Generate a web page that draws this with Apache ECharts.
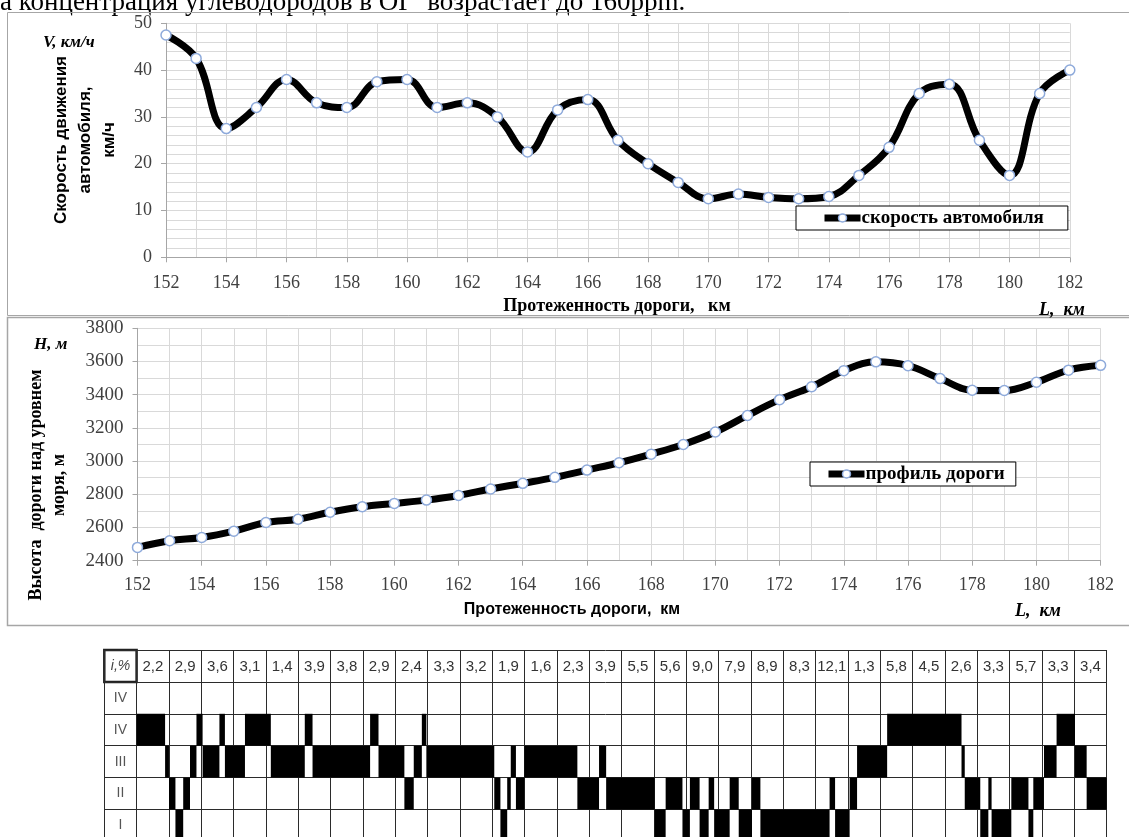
<!DOCTYPE html>
<html>
<head>
<meta charset="utf-8">
<script src="https://cdn.jsdelivr.net/npm/echarts@6/dist/echarts.min.js"></script>
<style>
  html, body { margin: 0; padding: 0; background: #fff; }
  #chart { width: 1129px; height: 837px; }
</style>
</head>
<body>
<div id="chart"></div>
<script>
// Road distance, km
const distanceKm = [152,153,154,155,156,157,158,159,160,161,162,163,164,165,166,167,168,169,170,171,172,173,174,175,176,177,178,179,180,181,182];
// Vehicle speed along the road, km/h
const speedKmh = [47.5,42.5,27.5,32,38,33,32,37.5,38,32,33,30,22.5,31.5,33.7,25,20,16,12.5,13.5,12.8,12.5,13,17.5,23.5,35,37,25,17.5,35,40];
// Road altitude above sea level, m
const altitudeM = [2480,2520,2540,2578,2630,2650,2692,2725,2745,2765,2793,2832,2866,2902,2946,2990,3042,3100,3175,3275,3370,3448,3545,3598,3575,3497,3427,3425,3475,3548,3577];
// Road gradient for each km, %
const gradePct = [2.2,2.9,3.6,3.1,1.4,3.9,3.8,2.9,2.4,3.3,3.2,1.9,1.6,2.3,3.9,5.5,5.6,9.0,7.9,8.9,8.3,12.1,1.3,5.8,4.5,2.6,3.3,5.7,3.3,3.4];
// Gear rows of the table (top to bottom)
const gearRowLabels = ['IV','IV','III','II','I'];
// Points where the engaged gear changes, km
const gearBreaksKm = [152.00,152.88,153.00,153.20,153.44,153.65,153.85,154.04,154.56,154.73,155.35,156.15,157.20,157.44,159.22,159.48,160.28,160.57,160.82,160.96,163.06,163.25,163.46,163.57,163.73,163.99,165.63,166.30,166.52,168.02,168.36,168.88,169.11,169.41,169.69,169.86,170.34,170.62,171.03,171.29,173.43,173.60,174.05,174.28,175.21,177.51,177.61,178.09,178.34,178.44,179.05,179.58,179.73,180.06,180.45,181.02,181.38,182.00];
// Gear row engaged between consecutive break points (index into gearRowLabels)
const gearRow = [1,2,3,4,3,2,1,2,1,2, 1,2,1,2,1,2,3,2,1,2, 3,4,3,2,3,2,3,2,3,4, 3,4,3,4,3,4,3,4,3,4, 3,4,3,2,1,2,3,4,3,4, 3,4,3,2,1,2,3];

const gearSegments = gearRow.map((r, i) => [gearBreaksKm[i], gearBreaksKm[i + 1], r]);
const gradeText = gradePct.map(v => v.toFixed(1).replace('.', ','));
const gradeCells = gradePct.map((v, i) => [distanceKm[i] + 0.5, -0.5]);
const rowLabelCells = gearRowLabels.map((l, i) => [151.5, i + 0.5]);

const SERIF = '"Liberation Serif", "Times New Roman", serif';
const SANS = '"Liberation Sans", Arial, sans-serif';
const gridGray = '#d9d9d9';
const axisGray = '#a6a6a6';

const chart = echarts.init(document.getElementById('chart'), null, { renderer: 'canvas' });

function chartAxisX(gridIndex, margin) {
  return {
    gridIndex, type: 'value', min: 152, max: 182, interval: 2,
    axisLine: { show: true, onZero: false, lineStyle: { color: axisGray, width: 1 } },
    axisTick: { show: true, length: 5, lineStyle: { color: axisGray } },
    axisLabel: { fontFamily: SERIF, fontSize: 18, color: '#404040', margin, formatter: v => String(v) },
    splitLine: { show: true, lineStyle: { color: gridGray, width: 1 } },
    minorTick: { show: false, splitNumber: 2 },
    minorSplitLine: { show: true, lineStyle: { color: gridGray, width: 1 } }
  };
}

function lineSeries(name, gridIndex, values) {
  return {
    type: 'line', name, xAxisIndex: gridIndex, yAxisIndex: gridIndex,
    data: distanceKm.map((d, i) => [d, values[i]]),
    smooth: 0.4, symbol: 'circle', symbolSize: 10, showAllSymbol: true,
    lineStyle: { color: '#000', width: 7 },
    itemStyle: { color: '#fff', borderColor: '#8eaadb', borderWidth: 1.5 },
    emphasis: { disabled: true }, z: 3, animation: false
  };
}

function legendBox(name, left, top, padding) {
  return {
    data: [name], left, top, orient: 'horizontal',
    backgroundColor: '#fff', borderColor: '#000', borderWidth: 1, borderRadius: 0,
    padding, itemWidth: 36, itemHeight: 10, itemGap: 0,
    lineStyle: { color: '#000', width: 7 },
    itemStyle: { color: '#fff', borderColor: '#8eaadb', borderWidth: 1.5 },
    textStyle: { fontFamily: SERIF, fontWeight: 'bold', fontSize: 19, color: '#000', lineHeight: 20, padding: [0, 0, 0, -4] },
    selectedMode: false
  };
}

function txt(text, x, y, font, opts) {
  return Object.assign({
    type: 'text', x, y, silent: true,
    style: {
      text, font, fill: (opts && opts.fill) || '#000',
      align: (opts && opts.align) || 'left', textAlign: (opts && opts.align) || 'left',
      verticalAlign: 'middle', textVerticalAlign: 'middle',
      lineHeight: opts && opts.lineHeight
    }
  }, opts && opts.rotation ? { rotation: opts.rotation } : {});
}

const option = {
  backgroundColor: '#fff',
  animation: false,
  grid: [
    { left: 166, top: 23.3, width: 903.8, height: 234, outerBoundsMode: 'none' },
    { left: 137.5, top: 328.3, width: 963.1, height: 232.4, outerBoundsMode: 'none' },
    { left: 104.3, top: 650, width: 1002.4, height: 191.4, outerBoundsMode: 'none' }
  ],
  xAxis: [
    chartAxisX(0, 17),
    chartAxisX(1, 16),
    {
      gridIndex: 2, type: 'value', min: 151, max: 182, interval: 1,
      axisLine: { show: false }, axisTick: { show: false }, axisLabel: { show: false },
      splitLine: { show: true, lineStyle: { color: '#2b2b2b', width: 1 } }
    }
  ],
  yAxis: [
    {
      gridIndex: 0, type: 'value', min: 0, max: 50, interval: 10,
      axisLine: { show: true, lineStyle: { color: axisGray } },
      axisTick: { show: true, length: 5, lineStyle: { color: axisGray } },
      axisLabel: { fontFamily: SERIF, fontSize: 18, color: '#404040', margin: 14, formatter: v => String(v) },
      splitLine: { show: true, lineStyle: { color: gridGray } },
      minorTick: { show: false, splitNumber: 5 },
      minorSplitLine: { show: true, lineStyle: { color: gridGray } }
    },
    {
      gridIndex: 1, type: 'value', min: 2400, max: 3800, interval: 200,
      axisLine: { show: true, lineStyle: { color: axisGray } },
      axisTick: { show: true, length: 5, lineStyle: { color: axisGray } },
      axisLabel: { fontFamily: SERIF, fontSize: 19, color: '#404040', margin: 14, formatter: v => String(v) },
      splitLine: { show: true, lineStyle: { color: gridGray } },
      minorTick: { show: false, splitNumber: 2 },
      minorSplitLine: { show: true, lineStyle: { color: gridGray } }
    },
    {
      gridIndex: 2, type: 'value', min: -1, max: 5, interval: 1, inverse: true,
      axisLine: { show: false }, axisTick: { show: false }, axisLabel: { show: false },
      splitLine: { show: true, lineStyle: { color: '#2b2b2b', width: 1 } }
    }
  ],
  legend: [
    legendBox('скорость автомобиля', 796, 206, [2, 24, 2, 25]),
    legendBox('профиль дороги', 810, 462, [2, 11, 2, 15])
  ],
  series: [
    lineSeries('скорость автомобиля', 0, speedKmh),
    lineSeries('профиль дороги', 1, altitudeM),
    {
      // engaged gear along the road
      type: 'custom', xAxisIndex: 2, yAxisIndex: 2, data: gearSegments,
      clip: false, silent: true, z: 2,
      renderItem: (params, api) => {
        const p0 = api.coord([api.value(0), api.value(2)]);
        const p1 = api.coord([api.value(1), api.value(2) + 1]);
        return { type: 'rect', shape: { x: p0[0], y: p0[1], width: p1[0] - p0[0], height: p1[1] - p0[1] }, style: { fill: '#000' } };
      }
    },
    {
      // gradient values in the header row
      type: 'custom', xAxisIndex: 2, yAxisIndex: 2, data: gradeCells,
      clip: false, silent: true, z: 3,
      renderItem: (params, api) => {
        const p = api.coord([api.value(0), api.value(1)]);
        return { type: 'text', x: p[0], y: p[1] + 1, style: { text: gradeText[params.dataIndex], font: '15px ' + SANS, fill: '#333', align: 'center', verticalAlign: 'middle' } };
      }
    },
    {
      // gear names in the first column
      type: 'custom', xAxisIndex: 2, yAxisIndex: 2, data: rowLabelCells,
      clip: false, silent: true, z: 3,
      renderItem: (params, api) => {
        const p = api.coord([api.value(0), api.value(1)]);
        return { type: 'text', x: p[0], y: p[1], style: { text: gearRowLabels[params.dataIndex], font: '14px ' + SANS, fill: '#555', align: 'center', verticalAlign: 'middle' } };
      }
    }
  ],
  graphic: [
    txt('а концентрация углеводородов в ОГ  возрастает до 160ppm.', 0, 3, '27px ' + SERIF),
    { type: 'rect', silent: true, shape: { x: 7.5, y: 12.5, width: 1130, height: 303 }, style: { fill: 'none', stroke: '#a6a6a6', lineWidth: 1 } },
    { type: 'rect', silent: true, shape: { x: 7.5, y: 317.5, width: 1130, height: 308 }, style: { fill: 'none', stroke: '#a6a6a6', lineWidth: 1.5 } },
    // upper chart captions
    txt('V, км/ч', 43, 43, 'italic bold 17px ' + SERIF),
    txt('Скорость движения\nавтомобиля,\nкм/ч', 85, 140, 'bold 17px ' + SANS, { align: 'center', rotation: Math.PI / 2, lineHeight: 24 }),
    txt('Протеженность дороги,   км', 617, 306, 'bold 18px ' + SERIF, { align: 'center' }),
    txt('L,  км', 1039, 310, 'italic bold 18px ' + SERIF),
    // lower chart captions
    txt('H, м', 34, 345, 'italic bold 17px ' + SERIF),
    txt('Высота  дороги над уровнем\nморя, м', 48, 485, 'bold 18px ' + SERIF, { align: 'center', rotation: Math.PI / 2, lineHeight: 23 }),
    txt('Протеженность дороги,  км', 572, 610, 'bold 16px ' + SANS, { align: 'center' }),
    txt('L,  км', 1015, 611, 'italic bold 18px ' + SERIF),
    // heading cell of the table
    { type: 'rect', silent: true, shape: { x: 104.3, y: 650, width: 32.3, height: 31.9 }, style: { fill: 'none', stroke: '#222', lineWidth: 2.5 } },
    txt('i,%', 120.5, 666, 'italic 14px ' + SANS, { align: 'center', fill: '#444' })
  ]
};

chart.setOption(option);
</script>
</body>
</html>
